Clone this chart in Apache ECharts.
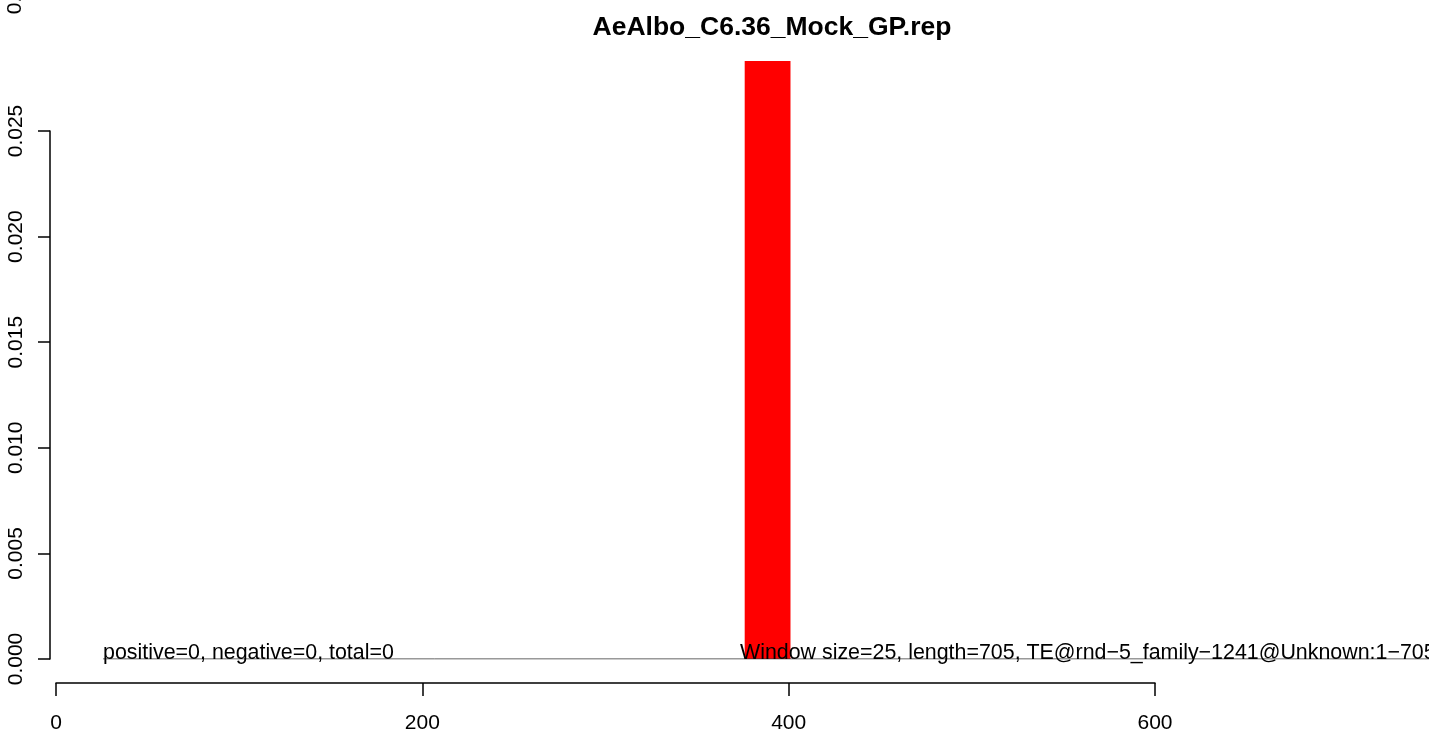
<!DOCTYPE html>
<html>
<head>
<meta charset="utf-8">
<script src="https://cdn.jsdelivr.net/npm/echarts@6/dist/echarts.min.js"></script>
<style>html,body{margin:0;padding:0;background:#fff}#c{width:1429px;height:734px}</style>
</head>
<body>
<div id="c"></div>
<script>
// ---- data ----
var titleText = 'AeAlbo_C6.36_Mock_GP.rep';
var windowStart = [376];
var windowEnd = [401];
var windowValue = [0.02831];
var baselineX = [25.7, 749.6];
var baselineY = [0, 0];
var xTicks = [0, 200, 400, 600];
var yTicks = ['0.000', '0.005', '0.010', '0.015', '0.020', '0.025'];
var annotations = [
  {x: 25.7, y: 0, text: 'positive=0, negative=0, total=0'},
  {x: 373.4, y: 0, text: 'Window size=25, length=705, TE@rnd\u22125_family\u22121241@Unknown:1\u2212705'}
];
var FONT = "'Liberation Sans', Arial, Helvetica, sans-serif";

var barData = windowStart.map(function (s, i) { return [s, windowEnd[i], windowValue[i]]; });
var lineData = baselineX.map(function (x, i) { return [x, baselineY[i]]; });
var annData = annotations.map(function (a) { return [a.x, a.y, a.text]; });

var chart = echarts.init(document.getElementById('c'), null, {renderer: 'canvas'});
chart.setOption({
  animation: false,
  backgroundColor: '#fff',
  title: {
    text: titleText, left: 767, top: 9, textAlign: 'center',
    textStyle: {fontFamily: FONT, fontWeight: 'bold', fontSize: 26.5, color: '#000'}
  },
  graphic: [{
    type: 'text', x: 15, y: -12, rotation: Math.PI / 2,
    style: {text: '0.030', font: '21px ' + FONT, fill: '#000', align: 'center', verticalAlign: 'middle'}
  }],
  grid: [
    {left: 56, right: 0, top: 61, bottom: 75},          // data
    {left: 50, width: 1, top: 131, bottom: 75},          // y axis
    {left: 56, width: 1099, top: 682, height: 1}         // x axis
  ],
  xAxis: [
    {gridIndex: 0, type: 'value', min: 0, max: 749.6, show: false},
    {gridIndex: 1, type: 'value', min: 0, max: 1, show: false},
    {gridIndex: 2, type: 'value', min: 0, max: 600, interval: 200, position: 'bottom',
      axisLine: {show: true, lineStyle: {color: '#000', width: 1.5}},
      axisTick: {show: true, length: 13, lineStyle: {color: '#000', width: 1.5}},
      splitLine: {show: false},
      axisLabel: {margin: 30, fontFamily: FONT, fontSize: 21, color: '#000',
        formatter: function (v) { return xTicks.indexOf(v) >= 0 ? String(v) : ''; }}
    }
  ],
  yAxis: [
    {gridIndex: 0, type: 'value', min: 0, max: 0.028314, show: false},
    {gridIndex: 1, type: 'value', min: 0, max: 0.025, interval: 0.005, position: 'left',
      axisLine: {show: true, lineStyle: {color: '#000', width: 1.5}},
      axisTick: {show: true, length: 12, lineStyle: {color: '#000', width: 1.5}},
      splitLine: {show: false},
      axisLabel: {rotate: 90, margin: 23, fontFamily: FONT, fontSize: 21, color: '#000',
        formatter: function (v) { return yTicks[Math.round(v / 0.005)]; }}
    },
    {gridIndex: 2, type: 'value', min: 0, max: 1, show: false}
  ],
  series: [
    {
      type: 'line', xAxisIndex: 0, yAxisIndex: 0, data: lineData, symbol: 'none',
      lineStyle: {color: '#333', width: 1}, z: 3
    },
    {
      type: 'custom', xAxisIndex: 0, yAxisIndex: 0, data: barData, z: 2,
      renderItem: function (params, api) {
        var p0 = api.coord([api.value(0), 0]);
        var p1 = api.coord([api.value(1), api.value(2)]);
        return {type: 'rect', shape: {x: p0[0], y: p1[1], width: p1[0] - p0[0], height: p0[1] - p1[1]},
          style: {fill: '#ff0000'}};
      }
    },
    {
      type: 'custom', xAxisIndex: 0, yAxisIndex: 0, data: annData, z: 4, clip: false,
      renderItem: function (params, api) {
        var p = api.coord([api.value(0), api.value(1)]);
        return {type: 'text', x: p[0], y: p[1] + 5,
          style: {text: annotations[params.dataIndex].text, font: '21.4px ' + FONT, fill: '#000',
            align: 'left', verticalAlign: 'bottom'}};
      }
    }
  ]
});
</script>
</body>
</html>
